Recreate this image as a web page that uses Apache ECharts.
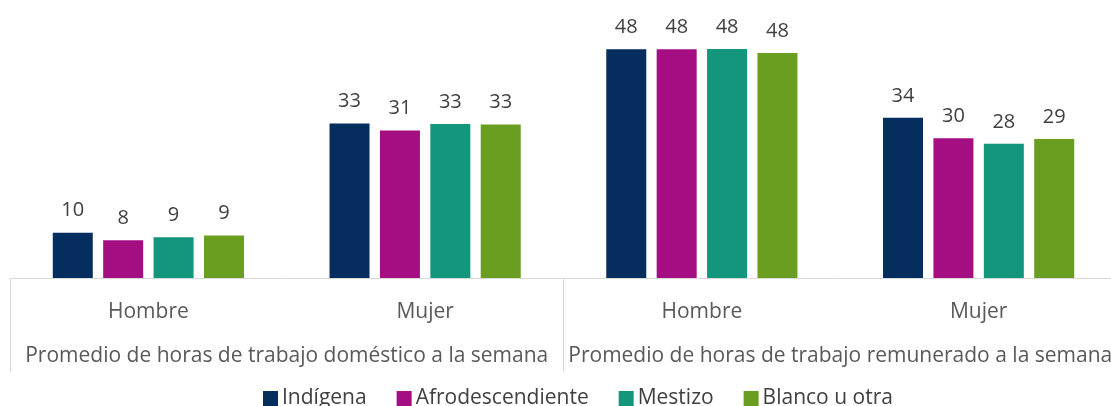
<!DOCTYPE html>
<html>
<head>
<meta charset="utf-8">
<script src="https://cdn.jsdelivr.net/npm/echarts@6/dist/echarts.min.js"></script>
<style>
  html, body { margin: 0; padding: 0; background: #fff; }
  #chart { width: 1111px; height: 406px; }
</style>
</head>
<body>
<div id="chart"></div>
<script>
// categorías (nivel 1 y nivel 2)
const categorias = ['Hombre', 'Mujer', 'Hombre', 'Mujer']
const grupos = ['Promedio de horas de trabajo doméstico a la semana', 'Promedio de horas de trabajo remunerado a la semana']

// valores
const indigena = [9.6, 32.7, 48.4, 33.9]
const afrodescendiente = [8.0, 31.2, 48.4, 29.6]
const mestizo = [8.6, 32.6, 48.45, 28.4]
const blanco = [9.0, 32.5, 47.6, 29.4]

const nombres = ['Indígena', 'Afrodescendiente', 'Mestizo', 'Blanco u otra']
const colores = ['#052D5E', '#A50E82', '#13967B', '#6A9E20']

const FONT = 'Open Sans'

const myChart = echarts.init(document.getElementById('chart'))

const serie = (name, data, color) => ({
  name: name,
  type: 'bar',
  barWidth: 40,
  barGap: '26%',
  itemStyle: { color: color },
  label: {
    show: true,
    position: 'top',
    distance: 12,
    color: '#404040',
    fontFamily: FONT,
    fontSize: 20,
    formatter: p => Math.round(p.value)
  },
  data: data
})

myChart.setOption({
  backgroundColor: '#fff',
  animation: false,
  grid: {
    left: 10,
    width: 1107,
    top: 41.75,
    height: 236.25,
    outerBoundsMode: 'none'
  },
  legend: {
    bottom: -8,
    left: 258,
    itemWidth: 15,
    itemHeight: 15,
    itemGap: 30,
    icon: 'rect',
    textStyle: { color: '#404040', fontFamily: FONT, fontSize: 21, padding: [0, 0, 0, -1] },
    data: nombres
  },
  xAxis: [
    {
      type: 'category',
      position: 'bottom',
      data: categorias,
      axisLine: { lineStyle: { color: '#D9D9D9', width: 1 } },
      axisTick: { show: false },
      axisLabel: { color: '#595959', fontFamily: FONT, fontSize: 21, margin: 24, interval: 0 }
    },
    {
      type: 'category',
      position: 'bottom',
      data: grupos,
      axisLine: { show: false },
      axisTick: { show: true, interval: 0, length: 94, lineStyle: { color: '#D9D9D9', width: 1 } },
      axisLabel: { color: '#595959', fontFamily: FONT, fontSize: 21, margin: 68, interval: 0, hideOverlap: false }
    }
  ],
  yAxis: {
    type: 'value',
    min: 0,
    max: 50,
    show: false,
    splitLine: { show: false }
  },
  series: [
    serie(nombres[0], indigena, colores[0]),
    serie(nombres[1], afrodescendiente, colores[1]),
    serie(nombres[2], mestizo, colores[2]),
    serie(nombres[3], blanco, colores[3])
  ]
})
</script>
</body>
</html>
